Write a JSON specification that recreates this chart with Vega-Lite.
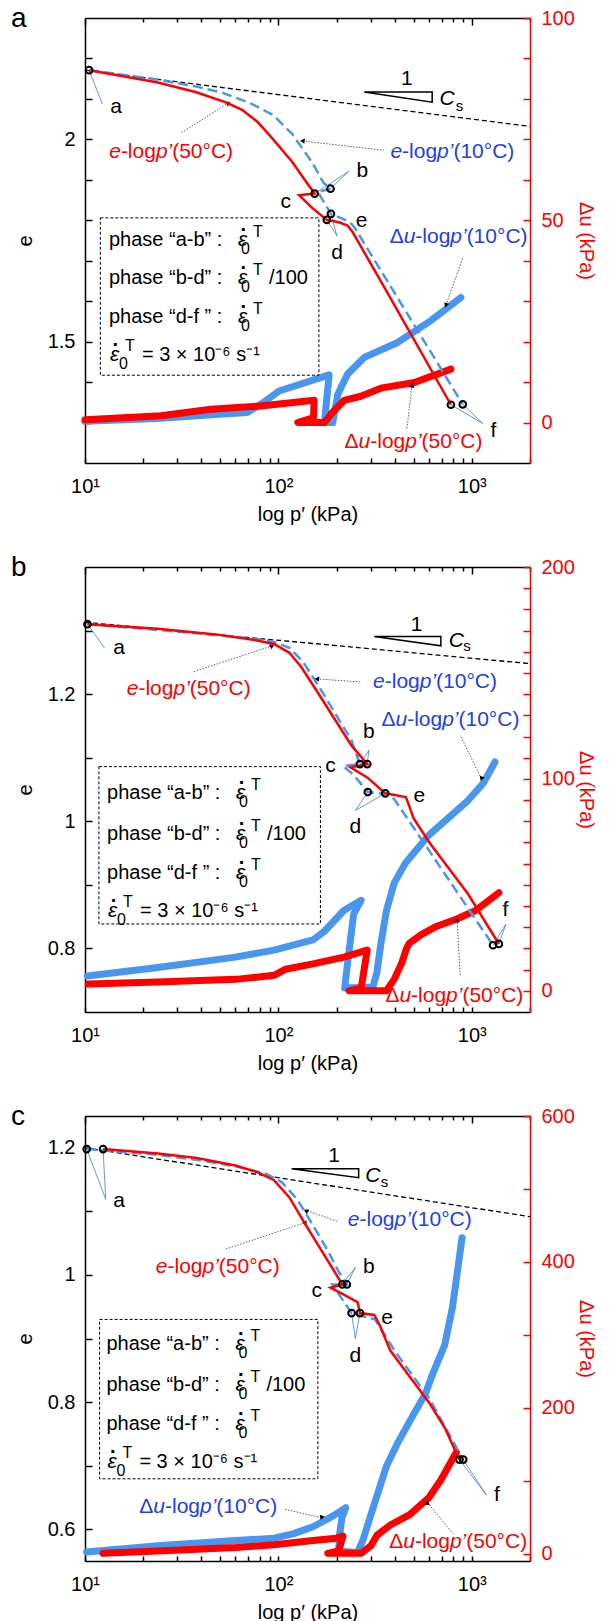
{
"$schema":"https://vega.github.io/schema/vega-lite/v6.json",
"autosize":{"type":"pad"},
"padding":{"left":10,"top":4,"right":5,"bottom":5},
"spacing":30,
"config":{"view":{"stroke":null},"font":"Liberation Sans",
 "axis":{"labelFont":"Liberation Sans","titleFont":"Liberation Sans","labelFontSize":20,"titleFontSize":20,"titleFontWeight":"normal","domainColor":"black","tickColor":"black","labelColor":"black","titleColor":"black","domainWidth":1.5,"tickWidth":1.5,"grid":false,"labelFlush":false,"labelOverlap":false}},
"datasets":{
"let":[{"panel":"a","t":"a","p":4.14,"v":2.2778},{"panel":"b","t":"b","p":4.14,"v":1.3858},{"panel":"c","t":"c","p":4.14,"v":1.2358}],
"el":[
{"panel":"a","s":"r","o":1,"p":10.5,"v":2.171},{"panel":"a","s":"r","o":2,"p":23.5,"v":2.141},{"panel":"a","s":"r","o":3,"p":37.3,"v":2.117},{"panel":"a","s":"r","o":4,"p":54,"v":2.091},{"panel":"a","s":"r","o":5,"p":64.9,"v":2.073},{"panel":"a","s":"r","o":6,"p":78.1,"v":2.043},{"panel":"a","s":"r","o":7,"p":94,"v":2.0},{"panel":"a","s":"r","o":8,"p":118,"v":1.944},{"panel":"a","s":"r","o":9,"p":142,"v":1.889},{"panel":"a","s":"r","o":10,"p":154,"v":1.866},{"panel":"a","s":"r","o":11,"p":128,"v":1.862},{"panel":"a","s":"r","o":12,"p":150,"v":1.830},{"panel":"a","s":"r","o":13,"p":178,"v":1.801},{"panel":"a","s":"r","o":14,"p":206,"v":1.795},{"panel":"a","s":"r","o":15,"p":228,"v":1.787},{"panel":"a","s":"r","o":16,"p":242,"v":1.771},{"panel":"a","s":"r","o":17,"p":376,"v":1.611},{"panel":"a","s":"r","o":18,"p":780,"v":1.344},
{"panel":"a","s":"b","o":1,"p":10.5,"v":2.171},{"panel":"a","s":"b","o":2,"p":23.5,"v":2.148},{"panel":"a","s":"b","o":3,"p":37.3,"v":2.131},{"panel":"a","s":"b","o":4,"p":51.5,"v":2.115},{"panel":"a","s":"b","o":5,"p":71.3,"v":2.090},{"panel":"a","s":"b","o":6,"p":94,"v":2.060},{"panel":"a","s":"b","o":7,"p":118,"v":2.013},{"panel":"a","s":"b","o":8,"p":149,"v":1.944},{"panel":"a","s":"b","o":9,"p":171,"v":1.893},{"panel":"a","s":"b","o":10,"p":186,"v":1.878},{"panel":"a","s":"b","o":11,"p":160,"v":1.870},{"panel":"a","s":"b","o":12,"p":187,"v":1.816},{"panel":"a","s":"b","o":13,"p":233,"v":1.796},{"panel":"a","s":"b","o":14,"p":247,"v":1.783},{"panel":"a","s":"b","o":15,"p":898,"v":1.345},
{"panel":"b","s":"r","o":1,"p":10.3,"v":1.310},{"panel":"b","s":"r","o":2,"p":23.8,"v":1.303},{"panel":"b","s":"r","o":3,"p":47.5,"v":1.294},{"panel":"b","s":"r","o":4,"p":75.5,"v":1.285},{"panel":"b","s":"r","o":5,"p":95,"v":1.279},{"panel":"b","s":"r","o":6,"p":114,"v":1.265},{"panel":"b","s":"r","o":7,"p":131,"v":1.243},{"panel":"b","s":"r","o":8,"p":158,"v":1.205},{"panel":"b","s":"r","o":9,"p":199,"v":1.157},{"panel":"b","s":"r","o":10,"p":239,"v":1.119},{"panel":"b","s":"r","o":11,"p":288,"v":1.090},{"panel":"b","s":"r","o":12,"p":236,"v":1.085},{"panel":"b","s":"r","o":13,"p":288,"v":1.069},{"panel":"b","s":"r","o":14,"p":357,"v":1.044},{"panel":"b","s":"r","o":15,"p":456,"v":1.038},{"panel":"b","s":"r","o":16,"p":471,"v":1.027},{"panel":"b","s":"r","o":17,"p":500,"v":1.005},{"panel":"b","s":"r","o":18,"p":602,"v":0.967},{"panel":"b","s":"r","o":19,"p":955,"v":0.886},{"panel":"b","s":"r","o":20,"p":1381,"v":0.807},
{"panel":"b","s":"b","o":1,"p":10.3,"v":1.310},{"panel":"b","s":"b","o":2,"p":23.8,"v":1.301},{"panel":"b","s":"b","o":3,"p":47.5,"v":1.293},{"panel":"b","s":"b","o":4,"p":75.5,"v":1.287},{"panel":"b","s":"b","o":5,"p":95,"v":1.282},{"panel":"b","s":"b","o":6,"p":114,"v":1.273},{"panel":"b","s":"b","o":7,"p":134,"v":1.251},{"panel":"b","s":"b","o":8,"p":165,"v":1.208},{"panel":"b","s":"b","o":9,"p":199,"v":1.167},{"panel":"b","s":"b","o":10,"p":239,"v":1.127},{"panel":"b","s":"b","o":11,"p":264,"v":1.090},{"panel":"b","s":"b","o":12,"p":216,"v":1.087},{"panel":"b","s":"b","o":13,"p":245,"v":1.073},{"panel":"b","s":"b","o":14,"p":290,"v":1.046},{"panel":"b","s":"b","o":15,"p":362,"v":1.043},{"panel":"b","s":"b","o":16,"p":397,"v":1.035},{"panel":"b","s":"b","o":17,"p":1288,"v":0.805},
{"panel":"c","s":"r","o":1,"p":12.4,"v":1.198},{"panel":"c","s":"r","o":2,"p":23.8,"v":1.191},{"panel":"c","s":"r","o":3,"p":37.8,"v":1.184},{"panel":"c","s":"r","o":4,"p":60,"v":1.172},{"panel":"c","s":"r","o":5,"p":79,"v":1.161},{"panel":"c","s":"r","o":6,"p":95,"v":1.149},{"panel":"c","s":"r","o":7,"p":114,"v":1.122},{"panel":"c","s":"r","o":8,"p":137,"v":1.081},{"panel":"c","s":"r","o":9,"p":165,"v":1.041},{"panel":"c","s":"r","o":10,"p":199,"v":1.001},{"panel":"c","s":"r","o":11,"p":214,"v":0.985},{"panel":"c","s":"r","o":12,"p":186,"v":0.980},{"panel":"c","s":"r","o":13,"p":218,"v":0.969},{"panel":"c","s":"r","o":14,"p":257,"v":0.957},{"panel":"c","s":"r","o":15,"p":264,"v":0.940},{"panel":"c","s":"r","o":16,"p":313,"v":0.937},{"panel":"c","s":"r","o":17,"p":333,"v":0.922},{"panel":"c","s":"r","o":18,"p":379,"v":0.881},{"panel":"c","s":"r","o":19,"p":478,"v":0.840},{"panel":"c","s":"r","o":20,"p":602,"v":0.799},{"panel":"c","s":"r","o":21,"p":724,"v":0.760},{"panel":"c","s":"r","o":22,"p":863,"v":0.7095},
{"panel":"c","s":"b","o":1,"p":10.2,"v":1.198},{"panel":"c","s":"b","o":2,"p":23.8,"v":1.189},{"panel":"c","s":"b","o":3,"p":37.8,"v":1.181},{"panel":"c","s":"b","o":4,"p":60,"v":1.171},{"panel":"c","s":"b","o":5,"p":86.7,"v":1.159},{"panel":"c","s":"b","o":6,"p":104,"v":1.146},{"panel":"c","s":"b","o":7,"p":125,"v":1.119},{"panel":"c","s":"b","o":8,"p":151,"v":1.078},{"panel":"c","s":"b","o":9,"p":181,"v":1.037},{"panel":"c","s":"b","o":10,"p":205,"v":1.005},{"panel":"c","s":"b","o":11,"p":226,"v":0.985},{"panel":"c","s":"b","o":12,"p":190,"v":0.985},{"panel":"c","s":"b","o":13,"p":239,"v":0.940},{"panel":"c","s":"b","o":14,"p":316,"v":0.930},{"panel":"c","s":"b","o":15,"p":400,"v":0.880},{"panel":"c","s":"b","o":16,"p":602,"v":0.806},{"panel":"c","s":"b","o":17,"p":903,"v":0.7095}
],
"ul":[
{"panel":"a","s":"b","o":1,"p":10,"v":0.3},{"panel":"a","s":"b","o":2,"p":23.5,"v":1.0},{"panel":"a","s":"b","o":3,"p":47,"v":2.0},{"panel":"a","s":"b","o":4,"p":69,"v":2.5},{"panel":"a","s":"b","o":5,"p":81,"v":4.5},{"panel":"a","s":"b","o":6,"p":101,"v":7.8},{"panel":"a","s":"b","o":7,"p":183,"v":11.8},{"panel":"a","s":"b","o":8,"p":173,"v":0},{"panel":"a","s":"b","o":9,"p":191,"v":0},{"panel":"a","s":"b","o":10,"p":203,"v":7.0},{"panel":"a","s":"b","o":11,"p":228,"v":12.0},{"panel":"a","s":"b","o":12,"p":278,"v":16.1},{"panel":"a","s":"b","o":13,"p":414,"v":19.8},{"panel":"a","s":"b","o":14,"p":615,"v":25.2},{"panel":"a","s":"b","o":15,"p":879,"v":30.9},
{"panel":"a","s":"r","o":1,"p":10,"v":0.7},{"panel":"a","s":"r","o":2,"p":24.7,"v":1.7},{"panel":"a","s":"r","o":3,"p":44.8,"v":3.3},{"panel":"a","s":"r","o":4,"p":81,"v":4.1},{"panel":"a","s":"r","o":5,"p":153,"v":5.5},{"panel":"a","s":"r","o":6,"p":152,"v":1.2},{"panel":"a","s":"r","o":7,"p":126,"v":0},{"panel":"a","s":"r","o":8,"p":173,"v":0},{"panel":"a","s":"r","o":9,"p":187,"v":2.1},{"panel":"a","s":"r","o":10,"p":219,"v":5.5},{"panel":"a","s":"r","o":11,"p":267,"v":6.5},{"panel":"a","s":"r","o":12,"p":339,"v":8.5},{"panel":"a","s":"r","o":13,"p":505,"v":9.9},{"panel":"a","s":"r","o":14,"p":780,"v":13.2},
{"panel":"b","s":"b","o":1,"p":10.3,"v":7.0},{"panel":"b","s":"b","o":2,"p":23.8,"v":11.0},{"panel":"b","s":"b","o":3,"p":60,"v":15.9},{"panel":"b","s":"b","o":4,"p":95,"v":19.2},{"panel":"b","s":"b","o":5,"p":151,"v":24.0},{"panel":"b","s":"b","o":6,"p":173,"v":28.1},{"panel":"b","s":"b","o":7,"p":218,"v":37.9},{"panel":"b","s":"b","o":8,"p":268,"v":42.7},{"panel":"b","s":"b","o":9,"p":245,"v":36.2},{"panel":"b","s":"b","o":10,"p":234,"v":21.6},{"panel":"b","s":"b","o":11,"p":220,"v":1.3},{"panel":"b","s":"b","o":12,"p":308,"v":1.8},{"panel":"b","s":"b","o":13,"p":323,"v":8.6},{"panel":"b","s":"b","o":14,"p":338,"v":21.6},{"panel":"b","s":"b","o":15,"p":362,"v":37.9},{"panel":"b","s":"b","o":16,"p":397,"v":50.9},{"panel":"b","s":"b","o":17,"p":456,"v":60.6},{"panel":"b","s":"b","o":18,"p":602,"v":73.6},{"panel":"b","s":"b","o":19,"p":955,"v":89.8},{"panel":"b","s":"b","o":20,"p":1148,"v":98},{"panel":"b","s":"b","o":21,"p":1318,"v":108},
{"panel":"b","s":"r","o":1,"p":10.4,"v":3.2},{"panel":"b","s":"r","o":2,"p":23.8,"v":4.1},{"panel":"b","s":"r","o":3,"p":60,"v":5.4},{"panel":"b","s":"r","o":4,"p":95,"v":7.3},{"panel":"b","s":"r","o":5,"p":109,"v":10.2},{"panel":"b","s":"r","o":6,"p":151,"v":12.7},{"panel":"b","s":"r","o":7,"p":218,"v":15.9},{"panel":"b","s":"r","o":8,"p":288,"v":19.2},{"panel":"b","s":"r","o":9,"p":268,"v":1.3},{"panel":"b","s":"r","o":10,"p":232,"v":0},{"panel":"b","s":"r","o":11,"p":362,"v":0},{"panel":"b","s":"r","o":12,"p":397,"v":5.4},{"panel":"b","s":"r","o":13,"p":436,"v":13.5},{"panel":"b","s":"r","o":14,"p":460,"v":20},{"panel":"b","s":"r","o":15,"p":475,"v":22.4},{"panel":"b","s":"r","o":16,"p":548,"v":26.5},{"panel":"b","s":"r","o":17,"p":660,"v":30.5},{"panel":"b","s":"r","o":18,"p":831,"v":33.8},{"panel":"b","s":"r","o":19,"p":1047,"v":37.9},{"panel":"b","s":"r","o":20,"p":1381,"v":46.3},
{"panel":"c","s":"b","o":1,"p":10.2,"v":2.4},{"panel":"c","s":"b","o":2,"p":23.8,"v":11},{"panel":"c","s":"b","o":3,"p":60,"v":18},{"panel":"c","s":"b","o":4,"p":95,"v":21.3},{"panel":"c","s":"b","o":5,"p":120,"v":27.5},{"panel":"c","s":"b","o":6,"p":151,"v":37},{"panel":"c","s":"b","o":7,"p":190,"v":51.2},{"panel":"c","s":"b","o":8,"p":223,"v":63},{"panel":"c","s":"b","o":9,"p":213,"v":48.8},{"panel":"c","s":"b","o":10,"p":207,"v":25},{"panel":"c","s":"b","o":11,"p":205,"v":3.8},{"panel":"c","s":"b","o":12,"p":257,"v":1.4},{"panel":"c","s":"b","o":13,"p":275,"v":20.4},{"panel":"c","s":"b","o":14,"p":301,"v":53.6},{"panel":"c","s":"b","o":15,"p":330,"v":86.7},{"panel":"c","s":"b","o":16,"p":362,"v":120},{"panel":"c","s":"b","o":17,"p":416,"v":153},{"panel":"c","s":"b","o":18,"p":500,"v":191},{"panel":"c","s":"b","o":19,"p":575,"v":219},{"panel":"c","s":"b","o":20,"p":631,"v":248},{"panel":"c","s":"b","o":21,"p":724,"v":286},{"panel":"c","s":"b","o":22,"p":795,"v":338},{"panel":"c","s":"b","o":23,"p":851,"v":395},{"panel":"c","s":"b","o":24,"p":891,"v":433},
{"panel":"c","s":"r","o":1,"p":12.4,"v":0.5},{"panel":"c","s":"r","o":2,"p":23.8,"v":3.8},{"panel":"c","s":"r","o":3,"p":60,"v":8.5},{"panel":"c","s":"r","o":4,"p":95,"v":12.3},{"panel":"c","s":"r","o":5,"p":151,"v":18},{"panel":"c","s":"r","o":6,"p":199,"v":21.3},{"panel":"c","s":"r","o":7,"p":216,"v":24.2},{"panel":"c","s":"r","o":8,"p":210,"v":13.3},{"panel":"c","s":"r","o":9,"p":205,"v":3.8},{"panel":"c","s":"r","o":10,"p":180,"v":0.5},{"panel":"c","s":"r","o":11,"p":268,"v":0.5},{"panel":"c","s":"r","o":12,"p":301,"v":10.9},{"panel":"c","s":"r","o":13,"p":323,"v":25.1},{"panel":"c","s":"r","o":14,"p":379,"v":39.3},{"panel":"c","s":"r","o":15,"p":478,"v":53.6},{"panel":"c","s":"r","o":16,"p":602,"v":77.3},{"panel":"c","s":"r","o":17,"p":692,"v":101},{"panel":"c","s":"r","o":18,"p":832,"v":139}
],
"ref":[
{"panel":"a","o":1,"p":10,"v":2.171},{"panel":"a","o":2,"p":2000,"v":2.032},
{"panel":"b","o":1,"p":10,"v":1.313},{"panel":"b","o":2,"p":2000,"v":1.248},
{"panel":"c","o":1,"p":10,"v":1.200},{"panel":"c","o":2,"p":2000,"v":1.0916}
],
"tri":[
{"panel":"a","o":1,"p":278,"v":2.117},{"panel":"a","o":2,"p":624,"v":2.117},{"panel":"a","o":3,"p":624,"v":2.092},{"panel":"a","o":4,"p":278,"v":2.117},
{"panel":"b","o":1,"p":313,"v":1.2905},{"panel":"b","o":2,"p":692,"v":1.2905},{"panel":"b","o":3,"p":692,"v":1.276},{"panel":"b","o":4,"p":313,"v":1.2905},
{"panel":"c","o":1,"p":117,"v":1.1672},{"panel":"c","o":2,"p":260,"v":1.1672},{"panel":"c","o":3,"p":260,"v":1.1529},{"panel":"c","o":4,"p":117,"v":1.1672}
],
"ptr":[
{"panel":"a","p":12.3,"v":2.087,"p2":10.5,"v2":2.171},{"panel":"a","p":231,"v":1.921,"p2":154,"v2":1.866},{"panel":"a","p":231,"v":1.921,"p2":186,"v2":1.878},{"panel":"a","p":201,"v":1.761,"p2":178,"v2":1.801},{"panel":"a","p":201,"v":1.761,"p2":187,"v2":1.816},{"panel":"a","p":1138,"v":1.298,"p2":780,"v2":1.344},{"panel":"a","p":1138,"v":1.298,"p2":898,"v2":1.345},
{"panel":"b","p":12.6,"v":1.273,"p2":10.3,"v2":1.310},{"panel":"b","p":294,"v":1.112,"p2":264,"v2":1.090},{"panel":"b","p":294,"v":1.112,"p2":288,"v2":1.090},{"panel":"b","p":250,"v":1.017,"p2":290,"v2":1.046},{"panel":"b","p":250,"v":1.017,"p2":357,"v2":1.044},{"panel":"b","p":1500,"v":0.838,"p2":1288,"v2":0.805},{"panel":"b","p":1500,"v":0.838,"p2":1381,"v2":0.807},
{"panel":"c","p":12.8,"v":1.119,"p2":10.2,"v2":1.198},{"panel":"c","p":12.8,"v":1.119,"p2":12.4,"v2":1.198},{"panel":"c","p":250,"v":1.012,"p2":214,"v2":0.985},{"panel":"c","p":250,"v":1.012,"p2":226,"v2":0.985},{"panel":"c","p":250,"v":0.900,"p2":239,"v2":0.940},{"panel":"c","p":250,"v":0.900,"p2":264,"v2":0.940},{"panel":"c","p":1192,"v":0.6536,"p2":863,"v2":0.7095},{"panel":"c","p":1192,"v":0.6536,"p2":903,"v2":0.7095}
],
"arr":[
{"panel":"a","id":1,"p":55.2,"v":2.090,"p2":31.7,"v2":2.017},{"panel":"a","id":2,"p":133,"v":1.996,"p2":351,"v2":1.973},{"panel":"a","id":3,"p":735,"v":1.590,"p2":903,"v2":1.710},{"panel":"a","id":4,"p":491,"v":1.392,"p2":462,"v2":1.285},
{"panel":"b","id":1,"p":92.9,"v":1.276,"p2":36.1,"v2":1.235},{"panel":"b","id":2,"p":158,"v":1.224,"p2":268,"v2":1.219},{"panel":"b","id":3,"p":1122,"v":1.067,"p2":871,"v2":1.135},{"panel":"b","id":4,"p":840,"v":0.845,"p2":871,"v2":0.756},
{"panel":"c","id":1,"p":141,"v":1.1009,"p2":201,"v2":1.0845},{"panel":"c","id":2,"p":136,"v":1.0817,"p2":53.3,"v2":1.0407},{"panel":"c","id":3,"p":167,"v":0.6180,"p2":107,"v2":0.6317},{"panel":"c","id":4,"p":589,"v":0.6421,"p2":801,"v2":0.5928}
],
"circ":[
{"panel":"a","p":10.5,"v":2.171},{"panel":"a","p":154,"v":1.866},{"panel":"a","p":186,"v":1.878},{"panel":"a","p":178,"v":1.801},{"panel":"a","p":187,"v":1.816},{"panel":"a","p":780,"v":1.344},{"panel":"a","p":898,"v":1.345},
{"panel":"b","p":10.3,"v":1.310},{"panel":"b","p":264,"v":1.090},{"panel":"b","p":288,"v":1.090},{"panel":"b","p":290,"v":1.046},{"panel":"b","p":357,"v":1.044},{"panel":"b","p":1288,"v":0.805},{"panel":"b","p":1381,"v":0.807},
{"panel":"c","p":10.2,"v":1.198},{"panel":"c","p":12.4,"v":1.198},{"panel":"c","p":214,"v":0.985},{"panel":"c","p":226,"v":0.985},{"panel":"c","p":239,"v":0.940},{"panel":"c","p":264,"v":0.940},{"panel":"c","p":863,"v":0.7095},{"panel":"c","p":903,"v":0.7095}
],
"box":[
{"panel":"a","p":12.0,"v":1.806,"p2":162,"v2":1.417},
{"panel":"b","p":11.8,"v":1.086,"p2":165,"v2":0.8385},
{"panel":"c","p":11.9,"v":0.930,"p2":160,"v2":0.6793}
],
"ltr":[
{"panel":"a","t":"a","p":14.5,"v":2.081},{"panel":"a","t":"b","p":272,"v":1.923},{"panel":"a","t":"c","p":109,"v":1.844},{"panel":"a","t":"d","p":201,"v":1.718},{"panel":"a","t":"e","p":269,"v":1.799},{"panel":"a","t":"f","p":1294,"v":1.280},{"panel":"a","t":"1","p":462,"v":2.148},
{"panel":"b","t":"a","p":15.0,"v":1.272},{"panel":"b","t":"b","p":294,"v":1.140},{"panel":"b","t":"c","p":186,"v":1.087},{"panel":"b","t":"d","p":250,"v":0.991},{"panel":"b","t":"e","p":536,"v":1.040},{"panel":"b","t":"f","p":1493,"v":0.861},{"panel":"b","t":"1","p":519,"v":1.309},
{"panel":"c","t":"a","p":15.0,"v":1.116},{"panel":"c","t":"b","p":294,"v":1.012},{"panel":"c","t":"c","p":158,"v":0.974},{"panel":"c","t":"d","p":250,"v":0.873},{"panel":"c","t":"e","p":365,"v":0.933},{"panel":"c","t":"f","p":1349,"v":0.6536},{"panel":"c","t":"1","p":194,"v":1.1874}
],
"lab":[
{"panel":"a","kind":"e","tail":"(50°C)","c":"r","p":27.9,"v":1.970},{"panel":"a","kind":"e","tail":"(10°C)","c":"b","p":794,"v":1.970},{"panel":"a","kind":"u","tail":"(10°C)","c":"b","p":855,"v":1.758},{"panel":"a","kind":"u","tail":"(50°C)","c":"r","p":500,"v":1.252},
{"panel":"b","kind":"e","tail":"(50°C)","c":"r","p":34.4,"v":1.208},{"panel":"b","kind":"e","tail":"(10°C)","c":"b","p":646,"v":1.219},{"panel":"b","kind":"u","tail":"(10°C)","c":"b","p":776,"v":1.159},{"panel":"b","kind":"u","tail":"(50°C)","c":"r","p":813,"v":0.725},
{"panel":"c","kind":"e","tail":"(10°C)","c":"b","p":478,"v":1.086},{"panel":"c","kind":"e","tail":"(50°C)","c":"r","p":48.6,"v":1.012},{"panel":"c","kind":"u","tail":"(10°C)","c":"b","p":43.4,"v":0.6355},{"panel":"c","kind":"u","tail":"(50°C)","c":"r","p":851,"v":0.5797}
],
"cs":[
{"panel":"a","k":"C","p":745,"v":2.100},{"panel":"a","k":"s","p":863,"v":2.083},
{"panel":"b","k":"C","p":832,"v":1.284},{"panel":"b","k":"s","p":946,"v":1.276},
{"panel":"c","k":"C","p":308,"v":1.1557},{"panel":"c","k":"s","p":354,"v":1.1463}
],
"bt":[
{"panel":"a","ln":1,"t":"phase “a-b” :","p":13.3,"v":1.752},{"panel":"a","ln":2,"t":"phase “b-d” :","p":13.3,"v":1.658},{"panel":"a","ln":3,"t":"phase “d-f ” :","p":13.3,"v":1.562},{"panel":"a","ln":4,"t":"= 3 ×  10⁻⁶ s⁻¹","p":13.3,"v":1.466},
{"panel":"b","ln":1,"t":"phase “a-b” :","p":13.0,"v":1.0444},{"panel":"b","ln":2,"t":"phase “b-d” :","p":13.0,"v":0.9805},{"panel":"b","ln":3,"t":"phase “d-f ” :","p":13.0,"v":0.918},{"panel":"b","ln":4,"t":"= 3 ×  10⁻⁶ s⁻¹","p":13.0,"v":0.8585},
{"panel":"c","ln":1,"t":"phase “a-b” :","p":12.9,"v":0.8918},{"panel":"c","ln":2,"t":"phase “b-d” :","p":12.9,"v":0.8272},{"panel":"c","ln":3,"t":"phase “d-f ” :","p":12.9,"v":0.7658},{"panel":"c","ln":4,"t":"= 3 ×  10⁻⁶ s⁻¹","p":12.9,"v":0.7056}
]
},
"vconcat":[
{
"width":445,"height":445,
"resolve":{"scale":{"x":"independent","y":"independent"}},
"layer":[
{"encoding":{
 "x":{"field":"p","type":"quantitative","scale":{"type":"log","domain":[10,2000],"nice":false},"axis":{"orient":"top","values":[10,20,30,40,50,60,70,80,90,100,200,300,400,500,600,700,800,900,1000,2000],"labels":false,"title":null,"tickSize":{"condition":{"test":"datum.value==10||datum.value==100||datum.value==1000","value":-7},"value":-4}}},
 "y":{"field":"v","type":"quantitative","scale":{"domain":[-10,100],"nice":false,"zero":false},"axis":{"orient":"right","values":[0,10,20,30,40,50,60,70,80,90,100],"labelExpr":"datum.value % 50 == 0 ? datum.label : ''","tickSize":-7,"labelPadding":18,"title":"Δu (kPa)","titlePadding":1,"domainColor":"#ff0000","tickColor":"#ff0000","labelColor":"#ff0000","titleColor":"#ff0000"}}},
 "layer":[
 {"data":{"name":"ul"},"transform":[{"filter":"datum.panel=='a' && datum.s=='b'"}],"mark":{"type":"line","color":"#4896ee","strokeWidth":7,"strokeCap":"round","strokeJoin":"round"},"encoding":{"order":{"field":"o","type":"quantitative"}}},
 {"data":{"name":"ul"},"transform":[{"filter":"datum.panel=='a' && datum.s=='r'"}],"mark":{"type":"line","color":"#ff0000","strokeWidth":7,"strokeCap":"round","strokeJoin":"round"},"encoding":{"order":{"field":"o","type":"quantitative"}}}
 ]},
{"encoding":{
 "x":{"field":"p","type":"quantitative","scale":{"type":"log","domain":[10,2000],"nice":false},"axis":{"orient":"bottom","values":[10,20,30,40,50,60,70,80,90,100,200,300,400,500,600,700,800,900,1000,2000],"labelExpr":"datum.value==10?'10¹':datum.value==100?'10²':datum.value==1000?'10³':''","tickSize":-5,"labelPadding":18,"title":"log p′ (kPa)","titlePadding":8}},
 "y":{"field":"v","type":"quantitative","scale":{"domain":[1.2,2.3],"nice":false,"zero":false},"axis":{"orient":"left","values":[1.3,1.4,1.5,1.6,1.7,1.8,1.9,2,2.1,2.2],"format":"~g","labelExpr":"round(datum.value*10) % 5 == 0 ? datum.label : ''","tickSize":-7,"labelPadding":17,"title":"e","titlePadding":12}}},
 "layer":[
 {"data":{"name":"let"},"transform":[{"filter":"datum.panel=='a'"}],"mark":{"type":"text","fontSize":28,"align":"left","baseline":"alphabetic","color":"black"},"encoding":{"text":{"field":"t"}}},
 {"data":{"name":"ref"},"transform":[{"filter":"datum.panel=='a'"}],"mark":{"type":"line","color":"black","strokeWidth":1.3,"strokeDash":[5,3]},"encoding":{"order":{"field":"o","type":"quantitative"}}},
 {"data":{"name":"tri"},"transform":[{"filter":"datum.panel=='a'"}],"mark":{"type":"line","color":"black","strokeWidth":1.5},"encoding":{"order":{"field":"o","type":"quantitative"}}},
 {"data":{"name":"box"},"transform":[{"filter":"datum.panel=='a'"}],"mark":{"type":"rect","fill":"transparent","stroke":"black","strokeWidth":1,"strokeDash":[3,2]},"encoding":{"x2":{"field":"p2"},"y2":{"field":"v2"}}},
 {"data":{"name":"ptr"},"transform":[{"filter":"datum.panel=='a'"}],"mark":{"type":"rule","color":"#3b7fd9","strokeWidth":0.8},"encoding":{"x2":{"field":"p2"},"y2":{"field":"v2"}}},
 {"data":{"name":"arr"},"transform":[{"filter":"datum.panel=='a'"}],"mark":{"type":"rule","color":"#333333","strokeWidth":0.8,"strokeDash":[1.5,1.5]},"encoding":{"x2":{"field":"p2"},"y2":{"field":"v2"}}},
 {"data":{"name":"arr"},"transform":[{"filter":"datum.panel=='a'"}],"mark":{"type":"point","shape":"triangle-up","filled":true,"color":"black","size":28,"opacity":1},"encoding":{"angle":{"field":"id","type":"quantitative","scale":{"domain":[1,2,3,4],"range":[58,276,200,7]},"legend":null}}},
 {"data":{"name":"el"},"transform":[{"filter":"datum.panel=='a' && datum.s=='b'"}],"mark":{"type":"line","color":"#4896ee","strokeWidth":2.5,"strokeDash":[10,5]},"encoding":{"order":{"field":"o","type":"quantitative"}}},
 {"data":{"name":"el"},"transform":[{"filter":"datum.panel=='a' && datum.s=='r'"}],"mark":{"type":"line","color":"#ff0000","strokeWidth":2.5},"encoding":{"order":{"field":"o","type":"quantitative"}}},
 {"data":{"name":"circ"},"transform":[{"filter":"datum.panel=='a'"}],"mark":{"type":"point","filled":false,"color":"black","strokeWidth":2,"size":45,"opacity":1}},
 {"data":{"name":"ltr"},"transform":[{"filter":"datum.panel=='a'"}],"mark":{"type":"text","fontSize":21,"color":"black"},"encoding":{"text":{"field":"t"}}},
 {"data":{"name":"lab"},"transform":[{"filter":"datum.panel=='a' && datum.kind=='e'"}],"mark":{"type":"text","fontSize":21,"align":"left","fontStyle":"italic","dx":-62,"text":"e"},"encoding":{"color":{"field":"c","type":"nominal","scale":{"domain":["r","b"],"range":["#ff0000","#2040f0"]},"legend":null}}},
 {"data":{"name":"lab"},"transform":[{"filter":"datum.panel=='a' && datum.kind=='e'"}],"mark":{"type":"text","fontSize":21,"align":"left","dx":-50.3,"text":"-log"},"encoding":{"color":{"field":"c","type":"nominal","legend":null}}},
 {"data":{"name":"lab"},"transform":[{"filter":"datum.panel=='a' && datum.kind=='e'"}],"mark":{"type":"text","fontSize":21,"align":"left","fontStyle":"italic","dx":-15.3,"text":"p’"},"encoding":{"color":{"field":"c","type":"nominal","legend":null}}},
 {"data":{"name":"lab"},"transform":[{"filter":"datum.panel=='a' && datum.kind=='e'"}],"mark":{"type":"text","fontSize":21,"align":"left","dx":1},"encoding":{"text":{"field":"tail"},"color":{"field":"c","type":"nominal","legend":null}}},
 {"data":{"name":"lab"},"transform":[{"filter":"datum.panel=='a' && datum.kind=='u'"}],"mark":{"type":"text","fontSize":21,"align":"left","dx":-69,"text":"Δ"},"encoding":{"color":{"field":"c","type":"nominal","legend":null}}},
 {"data":{"name":"lab"},"transform":[{"filter":"datum.panel=='a' && datum.kind=='u'"}],"mark":{"type":"text","fontSize":21,"align":"left","fontStyle":"italic","dx":-55,"text":"u"},"encoding":{"color":{"field":"c","type":"nominal","legend":null}}},
 {"data":{"name":"lab"},"transform":[{"filter":"datum.panel=='a' && datum.kind=='u'"}],"mark":{"type":"text","fontSize":21,"align":"left","dx":-43.3,"text":"-log"},"encoding":{"color":{"field":"c","type":"nominal","legend":null}}},
 {"data":{"name":"lab"},"transform":[{"filter":"datum.panel=='a' && datum.kind=='u'"}],"mark":{"type":"text","fontSize":21,"align":"left","fontStyle":"italic","dx":-8.3,"text":"p’"},"encoding":{"color":{"field":"c","type":"nominal","legend":null}}},
 {"data":{"name":"lab"},"transform":[{"filter":"datum.panel=='a' && datum.kind=='u'"}],"mark":{"type":"text","fontSize":21,"align":"left","dx":8},"encoding":{"text":{"field":"tail"},"color":{"field":"c","type":"nominal","legend":null}}},
 {"data":{"name":"cs"},"transform":[{"filter":"datum.panel=='a' && datum.k=='C'"}],"mark":{"type":"text","fontSize":21,"fontStyle":"italic","text":"C","color":"black"}},
 {"data":{"name":"cs"},"transform":[{"filter":"datum.panel=='a' && datum.k=='s'"}],"mark":{"type":"text","fontSize":15,"text":"s","color":"black"}},
 {"data":{"name":"bt"},"transform":[{"filter":"datum.panel=='a' && datum.ln<=3"}],"mark":{"type":"text","fontSize":20,"align":"left","color":"black"},"encoding":{"text":{"field":"t"}}},
 {"data":{"name":"bt"},"transform":[{"filter":"datum.panel=='a' && datum.ln==4"}],"mark":{"type":"text","fontSize":20,"align":"left","color":"black","dx":33},"encoding":{"text":{"field":"t"}}},
 {"data":{"name":"bt"},"transform":[{"filter":"datum.panel=='a' && datum.ln<=3"}],"mark":{"type":"text","fontSize":21,"fontStyle":"italic","align":"left","color":"black","dx":129,"text":"ε"}},
 {"data":{"name":"bt"},"transform":[{"filter":"datum.panel=='a' && datum.ln==4"}],"mark":{"type":"text","fontSize":21,"fontStyle":"italic","align":"left","color":"black","dx":1,"text":"ε"}},
 {"data":{"name":"bt"},"transform":[{"filter":"datum.panel=='a' && datum.ln<=3"}],"mark":{"type":"text","fontSize":20,"fontWeight":"bold","align":"center","color":"black","dx":135,"dy":-10,"text":"·"}},
 {"data":{"name":"bt"},"transform":[{"filter":"datum.panel=='a' && datum.ln==4"}],"mark":{"type":"text","fontSize":20,"fontWeight":"bold","align":"center","color":"black","dx":7,"dy":-10,"text":"·"}},
 {"data":{"name":"bt"},"transform":[{"filter":"datum.panel=='a' && datum.ln<=3"}],"mark":{"type":"text","fontSize":16,"align":"left","color":"black","dx":144,"dy":-8,"text":"T"}},
 {"data":{"name":"bt"},"transform":[{"filter":"datum.panel=='a' && datum.ln==4"}],"mark":{"type":"text","fontSize":16,"align":"left","color":"black","dx":16,"dy":-9,"text":"T"}},
 {"data":{"name":"bt"},"transform":[{"filter":"datum.panel=='a' && datum.ln<=3"}],"mark":{"type":"text","fontSize":16,"align":"left","color":"black","dx":132,"dy":9,"text":"0"}},
 {"data":{"name":"bt"},"transform":[{"filter":"datum.panel=='a' && datum.ln==4"}],"mark":{"type":"text","fontSize":16,"align":"left","color":"black","dx":10,"dy":9,"text":"0"}},
 {"data":{"name":"bt"},"transform":[{"filter":"datum.panel=='a' && datum.ln==2"}],"mark":{"type":"text","fontSize":20,"align":"left","color":"black","dx":160,"text":"/100"}}
 ]}
]},
{
"width":445,"height":445,
"resolve":{"scale":{"x":"independent","y":"independent"}},
"layer":[
{"encoding":{
 "x":{"field":"p","type":"quantitative","scale":{"type":"log","domain":[10,2000],"nice":false},"axis":{"orient":"top","values":[10,20,30,40,50,60,70,80,90,100,200,300,400,500,600,700,800,900,1000,2000],"labels":false,"title":null,"tickSize":{"condition":{"test":"datum.value==10||datum.value==100||datum.value==1000","value":-7},"value":-4}}},
 "y":{"field":"v","type":"quantitative","scale":{"domain":[-10,200],"nice":false,"zero":false},"axis":{"orient":"right","values":[0,10,20,30,40,50,60,70,80,90,100,110,120,130,140,150,160,170,180,190,200],"labelExpr":"datum.value % 100 == 0 ? datum.label : ''","tickSize":-7,"labelPadding":18,"title":"Δu (kPa)","titlePadding":1,"domainColor":"#ff0000","tickColor":"#ff0000","labelColor":"#ff0000","titleColor":"#ff0000"}}},
 "layer":[
 {"data":{"name":"ul"},"transform":[{"filter":"datum.panel=='b' && datum.s=='b'"}],"mark":{"type":"line","color":"#4896ee","strokeWidth":7,"strokeCap":"round","strokeJoin":"round"},"encoding":{"order":{"field":"o","type":"quantitative"}}},
 {"data":{"name":"ul"},"transform":[{"filter":"datum.panel=='b' && datum.s=='r'"}],"mark":{"type":"line","color":"#ff0000","strokeWidth":7,"strokeCap":"round","strokeJoin":"round"},"encoding":{"order":{"field":"o","type":"quantitative"}}}
 ]},
{"encoding":{
 "x":{"field":"p","type":"quantitative","scale":{"type":"log","domain":[10,2000],"nice":false},"axis":{"orient":"bottom","values":[10,20,30,40,50,60,70,80,90,100,200,300,400,500,600,700,800,900,1000,2000],"labelExpr":"datum.value==10?'10¹':datum.value==100?'10²':datum.value==1000?'10³':''","tickSize":-5,"labelPadding":18,"title":"log p′ (kPa)","titlePadding":8}},
 "y":{"field":"v","type":"quantitative","scale":{"domain":[0.7,1.4],"nice":false,"zero":false},"axis":{"orient":"left","values":[0.8,0.9,1,1.1,1.2,1.3],"format":"~g","labelExpr":"round(datum.value*10) % 2 == 0 ? datum.label : ''","tickSize":-7,"labelPadding":17,"title":"e","titlePadding":12}}},
 "layer":[
 {"data":{"name":"let"},"transform":[{"filter":"datum.panel=='b'"}],"mark":{"type":"text","fontSize":28,"align":"left","baseline":"alphabetic","color":"black"},"encoding":{"text":{"field":"t"}}},
 {"data":{"name":"ref"},"transform":[{"filter":"datum.panel=='b'"}],"mark":{"type":"line","color":"black","strokeWidth":1.3,"strokeDash":[5,3]},"encoding":{"order":{"field":"o","type":"quantitative"}}},
 {"data":{"name":"tri"},"transform":[{"filter":"datum.panel=='b'"}],"mark":{"type":"line","color":"black","strokeWidth":1.5},"encoding":{"order":{"field":"o","type":"quantitative"}}},
 {"data":{"name":"box"},"transform":[{"filter":"datum.panel=='b'"}],"mark":{"type":"rect","fill":"transparent","stroke":"black","strokeWidth":1,"strokeDash":[3,2]},"encoding":{"x2":{"field":"p2"},"y2":{"field":"v2"}}},
 {"data":{"name":"ptr"},"transform":[{"filter":"datum.panel=='b'"}],"mark":{"type":"rule","color":"#3b7fd9","strokeWidth":0.8},"encoding":{"x2":{"field":"p2"},"y2":{"field":"v2"}}},
 {"data":{"name":"arr"},"transform":[{"filter":"datum.panel=='b'"}],"mark":{"type":"rule","color":"#333333","strokeWidth":0.8,"strokeDash":[1.5,1.5]},"encoding":{"x2":{"field":"p2"},"y2":{"field":"v2"}}},
 {"data":{"name":"arr"},"transform":[{"filter":"datum.panel=='b'"}],"mark":{"type":"point","shape":"triangle-up","filled":true,"color":"black","size":28,"opacity":1},"encoding":{"angle":{"field":"id","type":"quantitative","scale":{"domain":[1,2,3,4],"range":[72,274,154,357]},"legend":null}}},
 {"data":{"name":"el"},"transform":[{"filter":"datum.panel=='b' && datum.s=='b'"}],"mark":{"type":"line","color":"#4896ee","strokeWidth":2.5,"strokeDash":[10,5]},"encoding":{"order":{"field":"o","type":"quantitative"}}},
 {"data":{"name":"el"},"transform":[{"filter":"datum.panel=='b' && datum.s=='r'"}],"mark":{"type":"line","color":"#ff0000","strokeWidth":2.5},"encoding":{"order":{"field":"o","type":"quantitative"}}},
 {"data":{"name":"circ"},"transform":[{"filter":"datum.panel=='b'"}],"mark":{"type":"point","filled":false,"color":"black","strokeWidth":2,"size":45,"opacity":1}},
 {"data":{"name":"ltr"},"transform":[{"filter":"datum.panel=='b'"}],"mark":{"type":"text","fontSize":21,"color":"black"},"encoding":{"text":{"field":"t"}}},
 {"data":{"name":"lab"},"transform":[{"filter":"datum.panel=='b' && datum.kind=='e'"}],"mark":{"type":"text","fontSize":21,"align":"left","fontStyle":"italic","dx":-62,"text":"e"},"encoding":{"color":{"field":"c","type":"nominal","scale":{"domain":["r","b"],"range":["#ff0000","#2040f0"]},"legend":null}}},
 {"data":{"name":"lab"},"transform":[{"filter":"datum.panel=='b' && datum.kind=='e'"}],"mark":{"type":"text","fontSize":21,"align":"left","dx":-50.3,"text":"-log"},"encoding":{"color":{"field":"c","type":"nominal","legend":null}}},
 {"data":{"name":"lab"},"transform":[{"filter":"datum.panel=='b' && datum.kind=='e'"}],"mark":{"type":"text","fontSize":21,"align":"left","fontStyle":"italic","dx":-15.3,"text":"p’"},"encoding":{"color":{"field":"c","type":"nominal","legend":null}}},
 {"data":{"name":"lab"},"transform":[{"filter":"datum.panel=='b' && datum.kind=='e'"}],"mark":{"type":"text","fontSize":21,"align":"left","dx":1},"encoding":{"text":{"field":"tail"},"color":{"field":"c","type":"nominal","legend":null}}},
 {"data":{"name":"lab"},"transform":[{"filter":"datum.panel=='b' && datum.kind=='u'"}],"mark":{"type":"text","fontSize":21,"align":"left","dx":-69,"text":"Δ"},"encoding":{"color":{"field":"c","type":"nominal","legend":null}}},
 {"data":{"name":"lab"},"transform":[{"filter":"datum.panel=='b' && datum.kind=='u'"}],"mark":{"type":"text","fontSize":21,"align":"left","fontStyle":"italic","dx":-55,"text":"u"},"encoding":{"color":{"field":"c","type":"nominal","legend":null}}},
 {"data":{"name":"lab"},"transform":[{"filter":"datum.panel=='b' && datum.kind=='u'"}],"mark":{"type":"text","fontSize":21,"align":"left","dx":-43.3,"text":"-log"},"encoding":{"color":{"field":"c","type":"nominal","legend":null}}},
 {"data":{"name":"lab"},"transform":[{"filter":"datum.panel=='b' && datum.kind=='u'"}],"mark":{"type":"text","fontSize":21,"align":"left","fontStyle":"italic","dx":-8.3,"text":"p’"},"encoding":{"color":{"field":"c","type":"nominal","legend":null}}},
 {"data":{"name":"lab"},"transform":[{"filter":"datum.panel=='b' && datum.kind=='u'"}],"mark":{"type":"text","fontSize":21,"align":"left","dx":8},"encoding":{"text":{"field":"tail"},"color":{"field":"c","type":"nominal","legend":null}}},
 {"data":{"name":"cs"},"transform":[{"filter":"datum.panel=='b' && datum.k=='C'"}],"mark":{"type":"text","fontSize":21,"fontStyle":"italic","text":"C","color":"black"}},
 {"data":{"name":"cs"},"transform":[{"filter":"datum.panel=='b' && datum.k=='s'"}],"mark":{"type":"text","fontSize":15,"text":"s","color":"black"}},
 {"data":{"name":"bt"},"transform":[{"filter":"datum.panel=='b' && datum.ln<=3"}],"mark":{"type":"text","fontSize":20,"align":"left","color":"black"},"encoding":{"text":{"field":"t"}}},
 {"data":{"name":"bt"},"transform":[{"filter":"datum.panel=='b' && datum.ln==4"}],"mark":{"type":"text","fontSize":20,"align":"left","color":"black","dx":33},"encoding":{"text":{"field":"t"}}},
 {"data":{"name":"bt"},"transform":[{"filter":"datum.panel=='b' && datum.ln<=3"}],"mark":{"type":"text","fontSize":21,"fontStyle":"italic","align":"left","color":"black","dx":129,"text":"ε"}},
 {"data":{"name":"bt"},"transform":[{"filter":"datum.panel=='b' && datum.ln==4"}],"mark":{"type":"text","fontSize":21,"fontStyle":"italic","align":"left","color":"black","dx":1,"text":"ε"}},
 {"data":{"name":"bt"},"transform":[{"filter":"datum.panel=='b' && datum.ln<=3"}],"mark":{"type":"text","fontSize":20,"fontWeight":"bold","align":"center","color":"black","dx":135,"dy":-10,"text":"·"}},
 {"data":{"name":"bt"},"transform":[{"filter":"datum.panel=='b' && datum.ln==4"}],"mark":{"type":"text","fontSize":20,"fontWeight":"bold","align":"center","color":"black","dx":7,"dy":-10,"text":"·"}},
 {"data":{"name":"bt"},"transform":[{"filter":"datum.panel=='b' && datum.ln<=3"}],"mark":{"type":"text","fontSize":16,"align":"left","color":"black","dx":144,"dy":-8,"text":"T"}},
 {"data":{"name":"bt"},"transform":[{"filter":"datum.panel=='b' && datum.ln==4"}],"mark":{"type":"text","fontSize":16,"align":"left","color":"black","dx":16,"dy":-9,"text":"T"}},
 {"data":{"name":"bt"},"transform":[{"filter":"datum.panel=='b' && datum.ln<=3"}],"mark":{"type":"text","fontSize":16,"align":"left","color":"black","dx":132,"dy":9,"text":"0"}},
 {"data":{"name":"bt"},"transform":[{"filter":"datum.panel=='b' && datum.ln==4"}],"mark":{"type":"text","fontSize":16,"align":"left","color":"black","dx":10,"dy":9,"text":"0"}},
 {"data":{"name":"bt"},"transform":[{"filter":"datum.panel=='b' && datum.ln==2"}],"mark":{"type":"text","fontSize":20,"align":"left","color":"black","dx":160,"text":"/100"}}
 ]}
]},
{
"width":445,"height":445,
"resolve":{"scale":{"x":"independent","y":"independent"}},
"layer":[
{"encoding":{
 "x":{"field":"p","type":"quantitative","scale":{"type":"log","domain":[10,2000],"nice":false},"axis":{"orient":"top","values":[10,20,30,40,50,60,70,80,90,100,200,300,400,500,600,700,800,900,1000,2000],"labels":false,"title":null,"tickSize":{"condition":{"test":"datum.value==10||datum.value==100||datum.value==1000","value":-7},"value":-4}}},
 "y":{"field":"v","type":"quantitative","scale":{"domain":[-10,600],"nice":false,"zero":false},"axis":{"orient":"right","values":[0,100,200,300,400,500,600],"labelExpr":"datum.value % 200 == 0 ? datum.label : ''","tickSize":-7,"labelPadding":18,"title":"Δu (kPa)","titlePadding":1,"domainColor":"#ff0000","tickColor":"#ff0000","labelColor":"#ff0000","titleColor":"#ff0000"}}},
 "layer":[
 {"data":{"name":"ul"},"transform":[{"filter":"datum.panel=='c' && datum.s=='b'"}],"mark":{"type":"line","color":"#4896ee","strokeWidth":7,"strokeCap":"round","strokeJoin":"round"},"encoding":{"order":{"field":"o","type":"quantitative"}}},
 {"data":{"name":"ul"},"transform":[{"filter":"datum.panel=='c' && datum.s=='r'"}],"mark":{"type":"line","color":"#ff0000","strokeWidth":7,"strokeCap":"round","strokeJoin":"round"},"encoding":{"order":{"field":"o","type":"quantitative"}}}
 ]},
{"encoding":{
 "x":{"field":"p","type":"quantitative","scale":{"type":"log","domain":[10,2000],"nice":false},"axis":{"orient":"bottom","values":[10,20,30,40,50,60,70,80,90,100,200,300,400,500,600,700,800,900,1000,2000],"labelExpr":"datum.value==10?'10¹':datum.value==100?'10²':datum.value==1000?'10³':''","tickSize":-5,"labelPadding":18,"title":"log p′ (kPa)","titlePadding":8}},
 "y":{"field":"v","type":"quantitative","scale":{"domain":[0.55,1.25],"nice":false,"zero":false},"axis":{"orient":"left","values":[0.6,0.7,0.8,0.9,1,1.1,1.2],"format":"~g","labelExpr":"round(datum.value*10) % 2 == 0 ? datum.label : ''","tickSize":-7,"labelPadding":17,"title":"e","titlePadding":12}}},
 "layer":[
 {"data":{"name":"let"},"transform":[{"filter":"datum.panel=='c'"}],"mark":{"type":"text","fontSize":28,"align":"left","baseline":"alphabetic","color":"black"},"encoding":{"text":{"field":"t"}}},
 {"data":{"name":"ref"},"transform":[{"filter":"datum.panel=='c'"}],"mark":{"type":"line","color":"black","strokeWidth":1.3,"strokeDash":[5,3]},"encoding":{"order":{"field":"o","type":"quantitative"}}},
 {"data":{"name":"tri"},"transform":[{"filter":"datum.panel=='c'"}],"mark":{"type":"line","color":"black","strokeWidth":1.5},"encoding":{"order":{"field":"o","type":"quantitative"}}},
 {"data":{"name":"box"},"transform":[{"filter":"datum.panel=='c'"}],"mark":{"type":"rect","fill":"transparent","stroke":"black","strokeWidth":1,"strokeDash":[3,2]},"encoding":{"x2":{"field":"p2"},"y2":{"field":"v2"}}},
 {"data":{"name":"ptr"},"transform":[{"filter":"datum.panel=='c'"}],"mark":{"type":"rule","color":"#3b7fd9","strokeWidth":0.8},"encoding":{"x2":{"field":"p2"},"y2":{"field":"v2"}}},
 {"data":{"name":"arr"},"transform":[{"filter":"datum.panel=='c'"}],"mark":{"type":"rule","color":"#333333","strokeWidth":0.8,"strokeDash":[1.5,1.5]},"encoding":{"x2":{"field":"p2"},"y2":{"field":"v2"}}},
 {"data":{"name":"arr"},"transform":[{"filter":"datum.panel=='c'"}],"mark":{"type":"point","shape":"triangle-up","filled":true,"color":"black","size":28,"opacity":1},"encoding":{"angle":{"field":"id","type":"quantitative","scale":{"domain":[1,2,3,4],"range":[289,72,103,320]},"legend":null}}},
 {"data":{"name":"el"},"transform":[{"filter":"datum.panel=='c' && datum.s=='b'"}],"mark":{"type":"line","color":"#4896ee","strokeWidth":2.5,"strokeDash":[10,5]},"encoding":{"order":{"field":"o","type":"quantitative"}}},
 {"data":{"name":"el"},"transform":[{"filter":"datum.panel=='c' && datum.s=='r'"}],"mark":{"type":"line","color":"#ff0000","strokeWidth":2.5},"encoding":{"order":{"field":"o","type":"quantitative"}}},
 {"data":{"name":"circ"},"transform":[{"filter":"datum.panel=='c'"}],"mark":{"type":"point","filled":false,"color":"black","strokeWidth":2,"size":45,"opacity":1}},
 {"data":{"name":"ltr"},"transform":[{"filter":"datum.panel=='c'"}],"mark":{"type":"text","fontSize":21,"color":"black"},"encoding":{"text":{"field":"t"}}},
 {"data":{"name":"lab"},"transform":[{"filter":"datum.panel=='c' && datum.kind=='e'"}],"mark":{"type":"text","fontSize":21,"align":"left","fontStyle":"italic","dx":-62,"text":"e"},"encoding":{"color":{"field":"c","type":"nominal","scale":{"domain":["r","b"],"range":["#ff0000","#2040f0"]},"legend":null}}},
 {"data":{"name":"lab"},"transform":[{"filter":"datum.panel=='c' && datum.kind=='e'"}],"mark":{"type":"text","fontSize":21,"align":"left","dx":-50.3,"text":"-log"},"encoding":{"color":{"field":"c","type":"nominal","legend":null}}},
 {"data":{"name":"lab"},"transform":[{"filter":"datum.panel=='c' && datum.kind=='e'"}],"mark":{"type":"text","fontSize":21,"align":"left","fontStyle":"italic","dx":-15.3,"text":"p’"},"encoding":{"color":{"field":"c","type":"nominal","legend":null}}},
 {"data":{"name":"lab"},"transform":[{"filter":"datum.panel=='c' && datum.kind=='e'"}],"mark":{"type":"text","fontSize":21,"align":"left","dx":1},"encoding":{"text":{"field":"tail"},"color":{"field":"c","type":"nominal","legend":null}}},
 {"data":{"name":"lab"},"transform":[{"filter":"datum.panel=='c' && datum.kind=='u'"}],"mark":{"type":"text","fontSize":21,"align":"left","dx":-69,"text":"Δ"},"encoding":{"color":{"field":"c","type":"nominal","legend":null}}},
 {"data":{"name":"lab"},"transform":[{"filter":"datum.panel=='c' && datum.kind=='u'"}],"mark":{"type":"text","fontSize":21,"align":"left","fontStyle":"italic","dx":-55,"text":"u"},"encoding":{"color":{"field":"c","type":"nominal","legend":null}}},
 {"data":{"name":"lab"},"transform":[{"filter":"datum.panel=='c' && datum.kind=='u'"}],"mark":{"type":"text","fontSize":21,"align":"left","dx":-43.3,"text":"-log"},"encoding":{"color":{"field":"c","type":"nominal","legend":null}}},
 {"data":{"name":"lab"},"transform":[{"filter":"datum.panel=='c' && datum.kind=='u'"}],"mark":{"type":"text","fontSize":21,"align":"left","fontStyle":"italic","dx":-8.3,"text":"p’"},"encoding":{"color":{"field":"c","type":"nominal","legend":null}}},
 {"data":{"name":"lab"},"transform":[{"filter":"datum.panel=='c' && datum.kind=='u'"}],"mark":{"type":"text","fontSize":21,"align":"left","dx":8},"encoding":{"text":{"field":"tail"},"color":{"field":"c","type":"nominal","legend":null}}},
 {"data":{"name":"cs"},"transform":[{"filter":"datum.panel=='c' && datum.k=='C'"}],"mark":{"type":"text","fontSize":21,"fontStyle":"italic","text":"C","color":"black"}},
 {"data":{"name":"cs"},"transform":[{"filter":"datum.panel=='c' && datum.k=='s'"}],"mark":{"type":"text","fontSize":15,"text":"s","color":"black"}},
 {"data":{"name":"bt"},"transform":[{"filter":"datum.panel=='c' && datum.ln<=3"}],"mark":{"type":"text","fontSize":20,"align":"left","color":"black"},"encoding":{"text":{"field":"t"}}},
 {"data":{"name":"bt"},"transform":[{"filter":"datum.panel=='c' && datum.ln==4"}],"mark":{"type":"text","fontSize":20,"align":"left","color":"black","dx":33},"encoding":{"text":{"field":"t"}}},
 {"data":{"name":"bt"},"transform":[{"filter":"datum.panel=='c' && datum.ln<=3"}],"mark":{"type":"text","fontSize":21,"fontStyle":"italic","align":"left","color":"black","dx":129,"text":"ε"}},
 {"data":{"name":"bt"},"transform":[{"filter":"datum.panel=='c' && datum.ln==4"}],"mark":{"type":"text","fontSize":21,"fontStyle":"italic","align":"left","color":"black","dx":1,"text":"ε"}},
 {"data":{"name":"bt"},"transform":[{"filter":"datum.panel=='c' && datum.ln<=3"}],"mark":{"type":"text","fontSize":20,"fontWeight":"bold","align":"center","color":"black","dx":135,"dy":-10,"text":"·"}},
 {"data":{"name":"bt"},"transform":[{"filter":"datum.panel=='c' && datum.ln==4"}],"mark":{"type":"text","fontSize":20,"fontWeight":"bold","align":"center","color":"black","dx":7,"dy":-10,"text":"·"}},
 {"data":{"name":"bt"},"transform":[{"filter":"datum.panel=='c' && datum.ln<=3"}],"mark":{"type":"text","fontSize":16,"align":"left","color":"black","dx":144,"dy":-8,"text":"T"}},
 {"data":{"name":"bt"},"transform":[{"filter":"datum.panel=='c' && datum.ln==4"}],"mark":{"type":"text","fontSize":16,"align":"left","color":"black","dx":16,"dy":-9,"text":"T"}},
 {"data":{"name":"bt"},"transform":[{"filter":"datum.panel=='c' && datum.ln<=3"}],"mark":{"type":"text","fontSize":16,"align":"left","color":"black","dx":132,"dy":9,"text":"0"}},
 {"data":{"name":"bt"},"transform":[{"filter":"datum.panel=='c' && datum.ln==4"}],"mark":{"type":"text","fontSize":16,"align":"left","color":"black","dx":10,"dy":9,"text":"0"}},
 {"data":{"name":"bt"},"transform":[{"filter":"datum.panel=='c' && datum.ln==2"}],"mark":{"type":"text","fontSize":20,"align":"left","color":"black","dx":160,"text":"/100"}}
 ]}
]}
]
}
